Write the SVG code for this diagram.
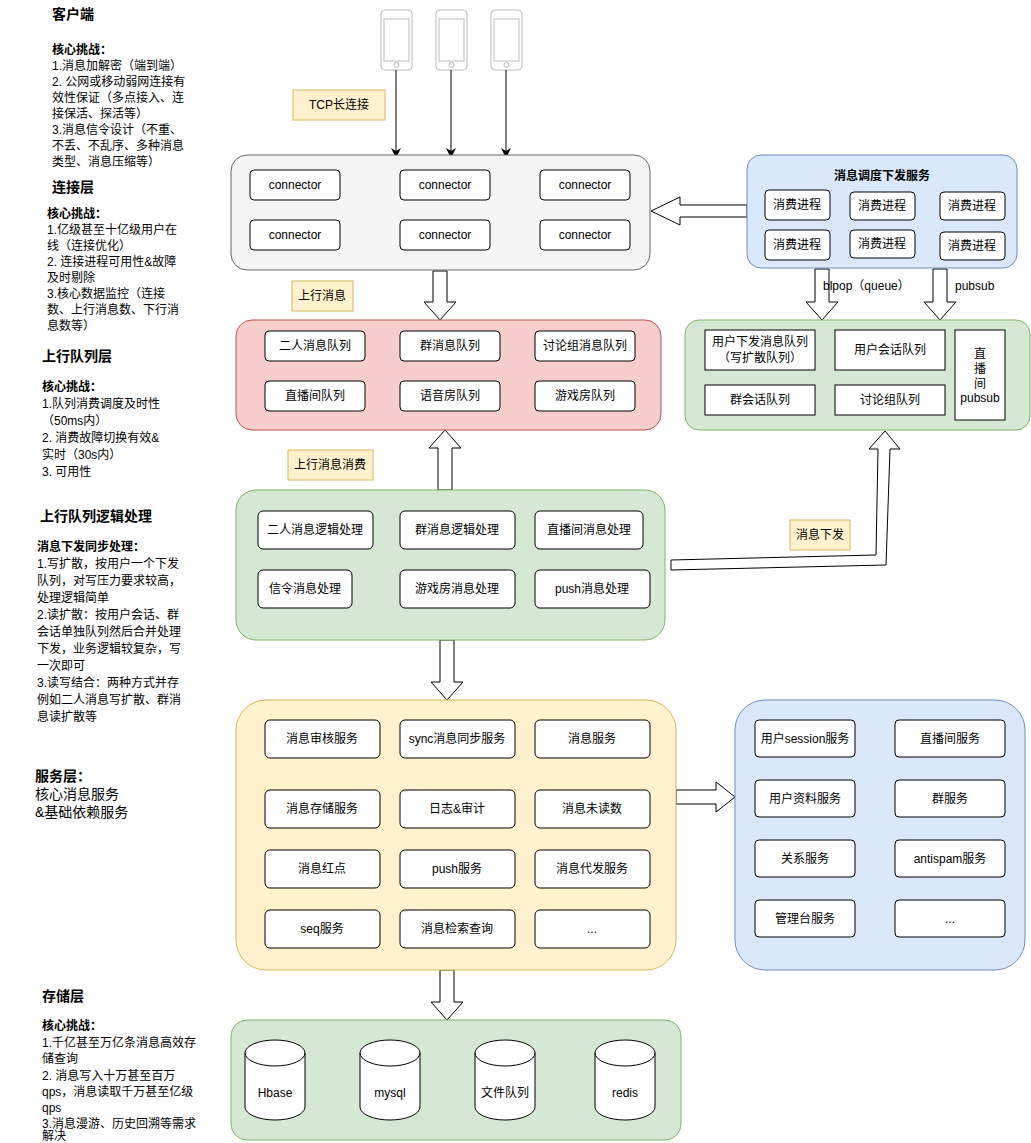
<svg xmlns="http://www.w3.org/2000/svg" width="1031" height="1143" viewBox="0 0 1031 1143">
<style>
text{font-family:"Liberation Sans","Noto Sans CJK SC",sans-serif;fill:#000}
.t{font-size:14px;font-weight:bold}
.b{font-size:12px}
.c{font-size:12px;text-anchor:middle;dominant-baseline:central}
.box{fill:#fff;stroke:#000;stroke-width:1}
.lbl{fill:#fff2cc;stroke:#d6b656}
.fa{fill:#fff;stroke:#000;stroke-width:1}
.ph{fill:#fff;stroke:#bbb}
</style>
<defs>
<marker id="ah" markerWidth="10" markerHeight="10" refX="5" refY="5" orient="auto" markerUnits="userSpaceOnUse"><path d="M0,0L10,5L0,10L3,5Z" fill="#000"/></marker>
</defs>
<rect width="1031" height="1143" fill="#fff"/>
<g id="notes">
<text class="t" x="52" y="19">客户端</text>
<text class="b" x="52" y="54" font-weight="bold">核心挑战：</text>
<text class="b" x="52" y="70">1.消息加解密（端到端）</text>
<text class="b" x="52" y="86">2. 公网或移动弱网连接有</text>
<text class="b" x="52" y="102">效性保证（多点接入、连</text>
<text class="b" x="52" y="118">接保活、探活等）</text>
<text class="b" x="52" y="134">3.消息信令设计（不重、</text>
<text class="b" x="52" y="150">不丢、不乱序、多种消息</text>
<text class="b" x="52" y="166">类型、消息压缩等）</text>
<text class="t" x="52" y="192">连接层</text>
<text class="b" x="47" y="218" font-weight="bold">核心挑战：</text>
<text class="b" x="47" y="234">1.亿级甚至十亿级用户在</text>
<text class="b" x="47" y="250">线（连接优化）</text>
<text class="b" x="47" y="266">2. 连接进程可用性&amp;故障</text>
<text class="b" x="47" y="282">及时剔除</text>
<text class="b" x="47" y="298">3.核心数据监控（连接</text>
<text class="b" x="47" y="314">数、上行消息数、下行消</text>
<text class="b" x="47" y="330">息数等）</text>
<text class="t" x="42" y="361">上行队列层</text>
<text class="b" x="42" y="391" font-weight="bold">核心挑战：</text>
<text class="b" x="42" y="408">1.队列消费调度及时性</text>
<text class="b" x="42" y="425">（50ms内）</text>
<text class="b" x="42" y="442">2. 消费故障切换有效&amp;</text>
<text class="b" x="42" y="459">实时（30s内）</text>
<text class="b" x="42" y="476">3. 可用性</text>
<text class="t" x="40" y="521">上行队列逻辑处理</text>
<text class="b" x="37" y="551" font-weight="bold">消息下发同步处理：</text>
<text class="b" x="37" y="568">1.写扩散，按用户一个下发</text>
<text class="b" x="37" y="585">队列，对写压力要求较高，</text>
<text class="b" x="37" y="602">处理逻辑简单</text>
<text class="b" x="37" y="619">2.读扩散：按用户会话、群</text>
<text class="b" x="37" y="636">会话单独队列然后合并处理</text>
<text class="b" x="37" y="653">下发，业务逻辑较复杂，写</text>
<text class="b" x="37" y="670">一次即可</text>
<text class="b" x="37" y="687">3.读写结合：两种方式并存</text>
<text class="b" x="37" y="704">例如二人消息写扩散、群消</text>
<text class="b" x="37" y="721">息读扩散等</text>
<text class="t" x="35" y="781">服务层：</text>
<text x="35" y="799" font-size="14">核心消息服务</text>
<text x="35" y="817" font-size="14">&amp;基础依赖服务</text>
<text class="t" x="42" y="1001">存储层</text>
<text class="b" x="42" y="1030" font-weight="bold">核心挑战：</text>
<text class="b" x="42" y="1047">1.千亿甚至万亿条消息高效存</text>
<text class="b" x="42" y="1063">储查询</text>
<text class="b" x="42" y="1080">2. 消息写入十万甚至百万</text>
<text class="b" x="42" y="1096">qps，消息读取千万甚至亿级</text>
<text class="b" x="42" y="1112">qps</text>
<text class="b" x="42" y="1128">3.消息漫游、历史回溯等需求</text>
<text class="b" x="42" y="1140">解决</text>
</g>
<g id="phones">
<g id="phone1"><rect class="ph" x="381" y="10" width="31" height="60" rx="4"/><rect class="ph" x="384" y="19" width="25" height="42"/><circle class="ph" cx="396.5" cy="65" r="2.5"/></g>
<g id="phone2"><rect class="ph" x="436" y="10" width="31" height="60" rx="4"/><rect class="ph" x="439" y="19" width="25" height="42"/><circle class="ph" cx="451.5" cy="65" r="2.5"/></g>
<g id="phone3"><rect class="ph" x="491" y="10" width="31" height="60" rx="4"/><rect class="ph" x="494" y="19" width="25" height="42"/><circle class="ph" cx="506.5" cy="65" r="2.5"/></g>
</g>
<g id="labels">
<rect class="lbl" x="293" y="90" width="92" height="30"/><text class="c" x="339" y="105">TCP长连接</text>
<rect class="lbl" x="292" y="281" width="61" height="30"/><text class="c" x="322" y="296">上行消息</text>
<rect class="lbl" x="288" y="450" width="85" height="30"/><text class="c" x="330" y="465">上行消息消费</text>
<rect class="lbl" x="790" y="520" width="60" height="30"/><text class="c" x="820" y="535">消息下发</text>
</g>
<g id="connectors">
<line x1="396" y1="70" x2="396" y2="153" stroke="#000" marker-end="url(#ah)"/>
<line x1="451" y1="70" x2="451" y2="153" stroke="#000" marker-end="url(#ah)"/>
<line x1="506" y1="70" x2="506" y2="153" stroke="#000" marker-end="url(#ah)"/>
<path class="fa" d="M433,271H447V302H456L440,320L424,302H433Z"/>
<path class="fa" d="M438,490H452V448H461L445,430L429,448H438Z"/>
<path class="fa" d="M440,640H454V682H463L447,700L431,682H440Z"/>
<path class="fa" d="M440,970H454V1002H463L447,1020L431,1002H440Z"/>
<path class="fa" d="M747,205H680V197L651,211L680,225V217H747Z"/>
<path class="fa" d="M815,269H829V302H838L822,320L806,302H815Z"/>
<path class="fa" d="M933,269H947V302H956L940,320L924,302H933Z"/>
<path class="fa" d="M676,790H716V782L735,797L716,812V804H676Z"/>
<path class="fa" d="M671,560L876,555L878,449H869L885,431L900,449H890L886,565L671,570Z"/>
<text x="823" y="290" font-size="12">blpop（queue）</text>
<text x="955" y="290" font-size="12">pubsub</text>
</g>
<g id="connector-layer">
<rect x="231" y="155" width="419" height="115" rx="16" fill="#f5f5f5" stroke="#666"/>
<rect class="box" x="250" y="170" width="90" height="30" rx="4"/><text class="c" x="295" y="185">connector</text>
<rect class="box" x="400" y="170" width="90" height="30" rx="4"/><text class="c" x="445" y="185">connector</text>
<rect class="box" x="540" y="170" width="90" height="30" rx="4"/><text class="c" x="585" y="185">connector</text>
<rect class="box" x="250" y="220" width="90" height="30" rx="4"/><text class="c" x="295" y="235">connector</text>
<rect class="box" x="400" y="220" width="90" height="30" rx="4"/><text class="c" x="445" y="235">connector</text>
<rect class="box" x="540" y="220" width="90" height="30" rx="4"/><text class="c" x="585" y="235">connector</text>
</g>
<g id="uplink-queue">
<rect x="236" y="320" width="425" height="110" rx="16" fill="#f8cecc" stroke="#b85450"/>
<rect class="box" x="265" y="331" width="100" height="30" rx="4"/><text class="c" x="315" y="346">二人消息队列</text>
<rect class="box" x="400" y="331" width="100" height="30" rx="4"/><text class="c" x="450" y="346">群消息队列</text>
<rect class="box" x="535" y="331" width="100" height="30" rx="4"/><text class="c" x="585" y="346">讨论组消息队列</text>
<rect class="box" x="265" y="381" width="100" height="30" rx="4"/><text class="c" x="315" y="396">直播间队列</text>
<rect class="box" x="400" y="381" width="100" height="30" rx="4"/><text class="c" x="450" y="396">语音房队列</text>
<rect class="box" x="535" y="381" width="100" height="30" rx="4"/><text class="c" x="585" y="396">游戏房队列</text>
</g>
<g id="logic">
<rect x="236" y="490" width="429" height="150" rx="20" fill="#d5e8d4" stroke="#82b366"/>
<rect class="box" x="258" y="511" width="115" height="38" rx="5"/><text class="c" x="315" y="530">二人消息逻辑处理</text>
<rect class="box" x="400" y="511" width="115" height="38" rx="5"/><text class="c" x="457" y="530">群消息逻辑处理</text>
<rect class="box" x="535" y="511" width="108" height="38" rx="5"/><text class="c" x="589" y="530">直播间消息处理</text>
<rect class="box" x="258" y="570" width="94" height="38" rx="5"/><text class="c" x="305" y="589">信令消息处理</text>
<rect class="box" x="400" y="570" width="115" height="38" rx="5"/><text class="c" x="457" y="589">游戏房消息处理</text>
<rect class="box" x="535" y="570" width="115" height="38" rx="5"/><text class="c" x="592" y="589">push消息处理</text>
</g>
<g id="services">
<rect x="236" y="700" width="440" height="270" rx="30" fill="#fff2cc" stroke="#d6b656"/>
<rect class="box" x="265" y="720" width="115" height="38" rx="5"/><text class="c" x="322" y="739">消息审核服务</text>
<rect class="box" x="400" y="720" width="115" height="38" rx="5"/><text class="c" x="457" y="739">sync消息同步服务</text>
<rect class="box" x="535" y="720" width="115" height="38" rx="5"/><text class="c" x="592" y="739">消息服务</text>
<rect class="box" x="265" y="790" width="115" height="38" rx="5"/><text class="c" x="322" y="809">消息存储服务</text>
<rect class="box" x="400" y="790" width="115" height="38" rx="5"/><text class="c" x="457" y="809">日志&amp;审计</text>
<rect class="box" x="535" y="790" width="115" height="38" rx="5"/><text class="c" x="592" y="809">消息未读数</text>
<rect class="box" x="265" y="850" width="115" height="38" rx="5"/><text class="c" x="322" y="869">消息红点</text>
<rect class="box" x="400" y="850" width="115" height="38" rx="5"/><text class="c" x="457" y="869">push服务</text>
<rect class="box" x="535" y="850" width="115" height="38" rx="5"/><text class="c" x="592" y="869">消息代发服务</text>
<rect class="box" x="265" y="910" width="115" height="38" rx="5"/><text class="c" x="322" y="929">seq服务</text>
<rect class="box" x="400" y="910" width="115" height="38" rx="5"/><text class="c" x="457" y="929">消息检索查询</text>
<rect class="box" x="535" y="910" width="115" height="38" rx="5"/><text class="c" x="592" y="929">...</text>
</g>
<g id="base-services">
<rect x="735" y="700" width="290" height="270" rx="30" fill="#dae8fc" stroke="#6c8ebf"/>
<rect class="box" x="755" y="720" width="100" height="37" rx="4"/><text class="c" x="805" y="739">用户session服务</text>
<rect class="box" x="895" y="720" width="110" height="37" rx="4"/><text class="c" x="950" y="739">直播间服务</text>
<rect class="box" x="755" y="780" width="100" height="37" rx="4"/><text class="c" x="805" y="799">用户资料服务</text>
<rect class="box" x="895" y="780" width="110" height="37" rx="4"/><text class="c" x="950" y="799">群服务</text>
<rect class="box" x="755" y="840" width="100" height="37" rx="4"/><text class="c" x="805" y="859">关系服务</text>
<rect class="box" x="895" y="840" width="110" height="37" rx="4"/><text class="c" x="950" y="859">antispam服务</text>
<rect class="box" x="755" y="900" width="100" height="37" rx="4"/><text class="c" x="805" y="919">管理台服务</text>
<rect class="box" x="895" y="900" width="110" height="37" rx="4"/><text class="c" x="950" y="919">...</text>
</g>
<g id="storage">
<rect x="231" y="1020" width="450" height="120" rx="16" fill="#d5e8d4" stroke="#82b366"/>
<g id="hbase"><path class="box" d="M245,1053A30,13 0 0 1 305,1053V1107A30,13 0 0 1 245,1107Z"/><path d="M245,1053A30,13 0 0 0 305,1053" fill="none" stroke="#000"/><text class="c" x="275" y="1093">Hbase</text></g>
<g id="mysql"><path class="box" d="M360,1053A30,13 0 0 1 420,1053V1107A30,13 0 0 1 360,1107Z"/><path d="M360,1053A30,13 0 0 0 420,1053" fill="none" stroke="#000"/><text class="c" x="390" y="1093">mysql</text></g>
<g id="filequeue"><path class="box" d="M475,1053A30,13 0 0 1 535,1053V1107A30,13 0 0 1 475,1107Z"/><path d="M475,1053A30,13 0 0 0 535,1053" fill="none" stroke="#000"/><text class="c" x="505" y="1093">文件队列</text></g>
<g id="redis"><path class="box" d="M595,1053A30,13 0 0 1 655,1053V1107A30,13 0 0 1 595,1107Z"/><path d="M595,1053A30,13 0 0 0 655,1053" fill="none" stroke="#000"/><text class="c" x="625" y="1093">redis</text></g>
</g>
<g id="dispatch">
<rect x="747" y="155" width="270" height="113" rx="14" fill="#dae8fc" stroke="#6c8ebf"/>
<text class="c" x="882" y="176" font-weight="bold">消息调度下发服务</text>
<rect class="box" x="765" y="190" width="65" height="30" rx="4"/><text class="c" x="797" y="205">消费进程</text>
<rect class="box" x="850" y="192" width="65" height="28" rx="4"/><text class="c" x="882" y="206">消费进程</text>
<rect class="box" x="940" y="192" width="65" height="28" rx="4"/><text class="c" x="972" y="206">消费进程</text>
<rect class="box" x="765" y="230" width="65" height="30" rx="4"/><text class="c" x="797" y="245">消费进程</text>
<rect class="box" x="850" y="230" width="65" height="28" rx="4"/><text class="c" x="882" y="244">消费进程</text>
<rect class="box" x="940" y="232" width="65" height="28" rx="4"/><text class="c" x="972" y="246">消费进程</text>
</g>
<g id="downlink-queue">
<rect x="685" y="320" width="345" height="110" rx="14" fill="#d5e8d4" stroke="#82b366"/>
<rect class="box" x="705" y="330" width="110" height="40"/><text class="c" x="760" y="342">用户下发消息队列</text><text class="c" x="760" y="358">（写扩散队列）</text>
<rect class="box" x="835" y="330" width="110" height="40"/><text class="c" x="890" y="350">用户会话队列</text>
<rect class="box" x="955" y="330" width="50" height="90"/><text class="c" x="980" y="354">直</text><text class="c" x="980" y="369">播</text><text class="c" x="980" y="384">间</text><text class="c" x="980" y="398">pubsub</text>
<rect class="box" x="705" y="385" width="110" height="30"/><text class="c" x="760" y="400">群会话队列</text>
<rect class="box" x="835" y="385" width="110" height="30"/><text class="c" x="890" y="400">讨论组队列</text>
</g>
</svg>
